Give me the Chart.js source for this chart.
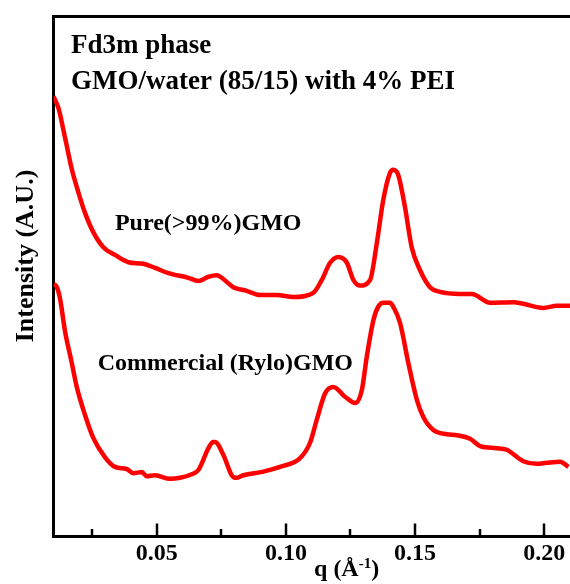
<!DOCTYPE html>
<html>
<head>
<meta charset="utf-8">
<script src="https://cdn.jsdelivr.net/npm/chart.js@4.4.0/dist/chart.umd.min.js"></script>
<style>
  html, body { margin: 0; padding: 0; background: #fff; }
</style>
</head>
<body>
<canvas id="saxsChart" width="570" height="584"></canvas>

<script>
  // SAXS profiles, q in 1/Å, intensity in arbitrary units (curves offset)
  const pureQ = [0.0100, 0.0119, 0.0145, 0.0170, 0.0196, 0.0222, 0.0254, 0.0293, 0.0338, 0.0390,
                 0.0448, 0.0493, 0.0545, 0.0622, 0.0661, 0.0700, 0.0732, 0.0771, 0.0796, 0.0848,
                 0.0900, 0.0964, 0.1029, 0.1106, 0.1139, 0.1171, 0.1203, 0.1236, 0.1261, 0.1287,
                 0.1326, 0.1352, 0.1377, 0.1403, 0.1416, 0.1435, 0.1461, 0.1487, 0.1519, 0.1558,
                 0.1597, 0.1674, 0.1720, 0.1791, 0.1881, 0.1919, 0.1997, 0.2049, 0.2100];
  const pureI = [84.6, 82.4, 76.6, 70.8, 66.2, 62.2, 58.5, 55.6, 54.1, 52.7,
                 52.4, 51.6, 50.6, 49.7, 49.1, 49.9, 50.2, 48.9, 47.9, 47.2,
                 46.4, 46.4, 46.0, 46.8, 49.3, 52.6, 53.7, 52.6, 49.3, 48.2,
                 49.3, 56.4, 64.7, 69.9, 70.5, 69.5, 63.3, 55.6, 51.2, 47.9,
                 47.0, 46.6, 46.6, 44.9, 45.0, 44.7, 43.9, 44.3, 44.3];

  const commQ = [0.0100, 0.0112, 0.0125, 0.0145, 0.0170, 0.0190, 0.0222, 0.0254, 0.0299, 0.0338,
                 0.0383, 0.0409, 0.0442, 0.0461, 0.0493, 0.0551, 0.0590, 0.0635, 0.0661, 0.0700,
                 0.0718, 0.0725, 0.0758, 0.0790, 0.0807, 0.0835, 0.0913, 0.0977, 0.1055, 0.1093,
                 0.1119, 0.1152, 0.1184, 0.1229, 0.1268, 0.1294, 0.1313, 0.1339, 0.1357, 0.1377,
                 0.1403, 0.1416, 0.1442, 0.1474, 0.1507, 0.1532, 0.1571, 0.1623, 0.1662, 0.1713,
                 0.1752, 0.1816, 0.1855, 0.1919, 0.1971, 0.2010, 0.2062, 0.2094];
  const commI = [48.5, 48.0, 45.8, 39.3, 33.5, 28.7, 23.3, 18.9, 15.2, 13.3,
                 12.9, 12.1, 12.3, 11.5, 11.7, 11.0, 11.2, 11.9, 12.7, 16.9,
                 18.1, 18.1, 15.6, 11.7, 11.2, 11.7, 12.4, 13.3, 15.0, 17.9,
                 22.3, 27.5, 28.7, 26.8, 25.6, 28.1, 34.5, 41.6, 44.1, 44.9,
                 44.9, 44.1, 41.0, 33.3, 26.2, 22.9, 20.4, 19.6, 19.4, 18.7,
                 17.3, 16.9, 16.6, 14.4, 13.9, 14.1, 14.3, 13.3];

  const seriesNames = ['Pure(>99%)GMO', 'Commercial (Rylo)GMO'];
  const majorTicks = [0.05, 0.10, 0.15, 0.20];
  const minorTicks = [0.025, 0.075, 0.125, 0.175];

  const toPoints = (qs, is) => qs.map((q, i) => ({x: q, y: is[i]}));
  const serif = '"Liberation Serif", "Times New Roman", serif';

  // frame top line, inward tick marks, titles and curve labels
  const decorations = {
    id: 'decorations',
    afterDraw(chart) {
      const {ctx, chartArea: a, scales: {x, y}} = chart;
      ctx.save();
      ctx.strokeStyle = '#000';
      ctx.lineWidth = 3;
      ctx.beginPath();
      ctx.moveTo(a.left - 1.5, a.top);
      ctx.lineTo(a.right, a.top);
      ctx.stroke();

      ctx.lineWidth = 2.5;
      const tick = (v, len) => {
        const px = Math.round(x.getPixelForValue(v));
        ctx.beginPath();
        ctx.moveTo(px, a.bottom);
        ctx.lineTo(px, a.bottom - len);
        ctx.stroke();
      };
      majorTicks.forEach(v => tick(v, 12.5));
      minorTicks.forEach(v => tick(v, 7));

      ctx.fillStyle = '#000';
      ctx.textBaseline = 'alphabetic';
      ctx.textAlign = 'left';
      ctx.font = 'bold 27px ' + serif;
      ctx.fillText('Fd3m phase', 71, 52.5);
      ctx.fillText('GMO/water (85/15) with 4% PEI', 71, 89);

      // curve labels, anchored in data space
      ctx.font = 'bold 24px ' + serif;
      ctx.fillText(seriesNames[0], x.getPixelForValue(0.0338), y.getPixelForValue(58.9));
      ctx.fillText(seriesNames[1], x.getPixelForValue(0.0271), y.getPixelForValue(32.0));

      // x title with superscript
      const base = 576;
      const w1 = ctx.measureText('q (Å').width;
      ctx.font = 'bold 15px ' + serif;
      const w2 = ctx.measureText('-1').width;
      ctx.font = 'bold 24px ' + serif;
      const w3 = ctx.measureText(')').width;
      let sx = x.getPixelForValue(0.1235) - (w1 + w2 + w3) / 2;
      ctx.fillText('q (Å', sx, base);
      ctx.font = 'bold 15px ' + serif;
      ctx.fillText('-1', sx + w1, base - 8);
      ctx.font = 'bold 24px ' + serif;
      ctx.fillText(')', sx + w1 + w2, base);

      // y title
      ctx.translate(26, 256);
      ctx.rotate(-Math.PI / 2);
      ctx.textAlign = 'center';
      ctx.textBaseline = 'middle';
      ctx.font = 'bold 26px ' + serif;
      ctx.fillText('Intensity (A.U.)', 0, 0);
      ctx.restore();
    }
  };

  new Chart('saxsChart', {
    type: 'line',
    data: {
      datasets: [{
        label: seriesNames[0],
        data: toPoints(pureQ, pureI),
        borderColor: '#ff0000',
        borderWidth: 4.5,
        pointRadius: 0,
        cubicInterpolationMode: 'monotone',
        fill: false
      }, {
        label: seriesNames[1],
        data: toPoints(commQ, commI),
        borderColor: '#ff0000',
        borderWidth: 4.5,
        pointRadius: 0,
        cubicInterpolationMode: 'monotone',
        fill: false
      }]
    },
    options: {
      responsive: false,
      animation: false,
      layout: {padding: {top: 16.5, right: 0, left: 0, bottom: 0}},
      plugins: {
        legend: {display: false},
        tooltip: {enabled: false}
      },
      scales: {
        x: {
          type: 'linear',
          min: 0.01,
          max: 0.21,
          afterBuildTicks(scale) {
            scale.ticks = majorTicks.map(v => ({value: v}));
          },
          afterFit(scale) { scale.height = 48; },
          grid: {display: false, drawTicks: false},
          border: {display: true, color: '#000', width: 3},
          ticks: {
            color: '#000',
            padding: 3,
            maxRotation: 0,
            font: {family: serif, weight: 'bold', size: 24},
            callback: v => v.toFixed(2)
          }
        },
        y: {
          min: 0,
          max: 100,
          afterFit(scale) { scale.width = 53.5; },
          grid: {display: false, drawTicks: false},
          border: {display: true, color: '#000', width: 3},
          ticks: {display: false}
        }
      }
    },
    plugins: [decorations]
  });
</script>
</body>
</html>
